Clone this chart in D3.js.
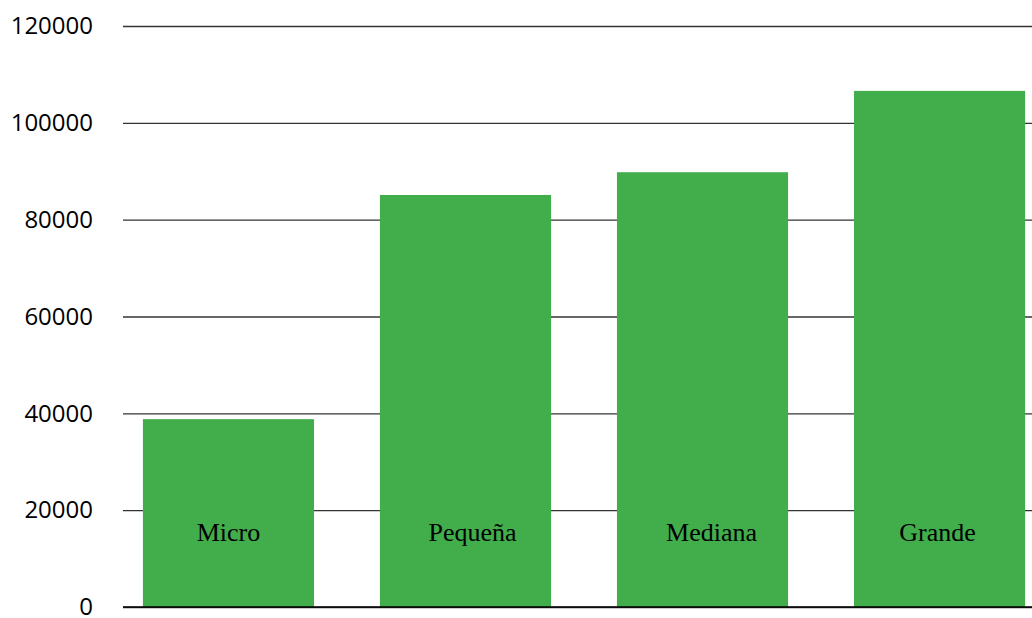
<!DOCTYPE html>
<html>
<head>
<meta charset="utf-8">
<script src="https://cdn.jsdelivr.net/npm/d3@7"></script>
<style>
  html, body { margin: 0; padding: 0; background: #fff; }
  svg { display: block; }
</style>
</head>
<body>
<div id="chart"></div>
<script>
(function () {
  'use strict';

  // --- Data ---
  var categories = ['Micro', 'Pequeña', 'Mediana', 'Grande'];
  var values = [38800, 85100, 89800, 106600];
  var yTicks = [0, 20000, 40000, 60000, 80000, 100000, 120000];

  // Labels in the original aren't quite centred on their bars
  var labelShift = [0, 7, 9, -2];

  // --- Dimensions ---
  var width = 1032, height = 618;
  var plotLeft = 123, plotTop = 26, plotBottom = 607;

  var svg = d3.select('#chart').append('svg')
    .attr('width', width)
    .attr('height', height);

  var x = d3.scaleBand()
    .domain(categories)
    .range([plotLeft, 1045])
    .paddingInner(0.278)
    .paddingOuter(0.084);

  var y = d3.scaleLinear()
    .domain([0, 120000])
    .range([plotBottom, plotTop]);

  // Gridlines + tick labels
  var yAxis = d3.axisLeft(y)
    .tickValues(yTicks)
    .tickSize(-(width - plotLeft))
    .tickPadding(30)
    .tickFormat(d3.format('d'));

  var gy = svg.append('g')
    .attr('transform', 'translate(' + plotLeft + ',0)')
    .call(yAxis);

  gy.select('.domain').remove();
  gy.selectAll('.tick line')
    .attr('stroke', '#333')
    .attr('stroke-width', 1.3);
  gy.selectAll('.tick text')
    .attr('font-family', '"Open Sans", sans-serif')
    .attr('font-size', '24px')
    .attr('fill', '#000');

  // Bars
  svg.append('g')
    .selectAll('rect')
    .data(values)
    .join('rect')
    .attr('x', function (d, i) { return x(categories[i]); })
    .attr('y', function (d) { return y(d); })
    .attr('width', x.bandwidth())
    .attr('height', function (d) { return y(0) - y(d); })
    .attr('fill', '#42ad4b');

  // Baseline
  svg.append('line')
    .attr('x1', plotLeft).attr('x2', width)
    .attr('y1', y(0)).attr('y2', y(0))
    .attr('stroke', '#000')
    .attr('stroke-width', 1.3);

  // Category labels inside bars
  svg.append('g')
    .selectAll('text')
    .data(categories)
    .join('text')
    .attr('x', function (d, i) { return x(d) + x.bandwidth() / 2 + labelShift[i]; })
    .attr('y', 541)
    .attr('text-anchor', 'middle')
    .attr('font-family', '"Liberation Serif", "Times New Roman", serif')
    .attr('font-size', '26px')
    .attr('fill', '#000')
    .text(function (d) { return d; });
})();
</script>
</body>
</html>
